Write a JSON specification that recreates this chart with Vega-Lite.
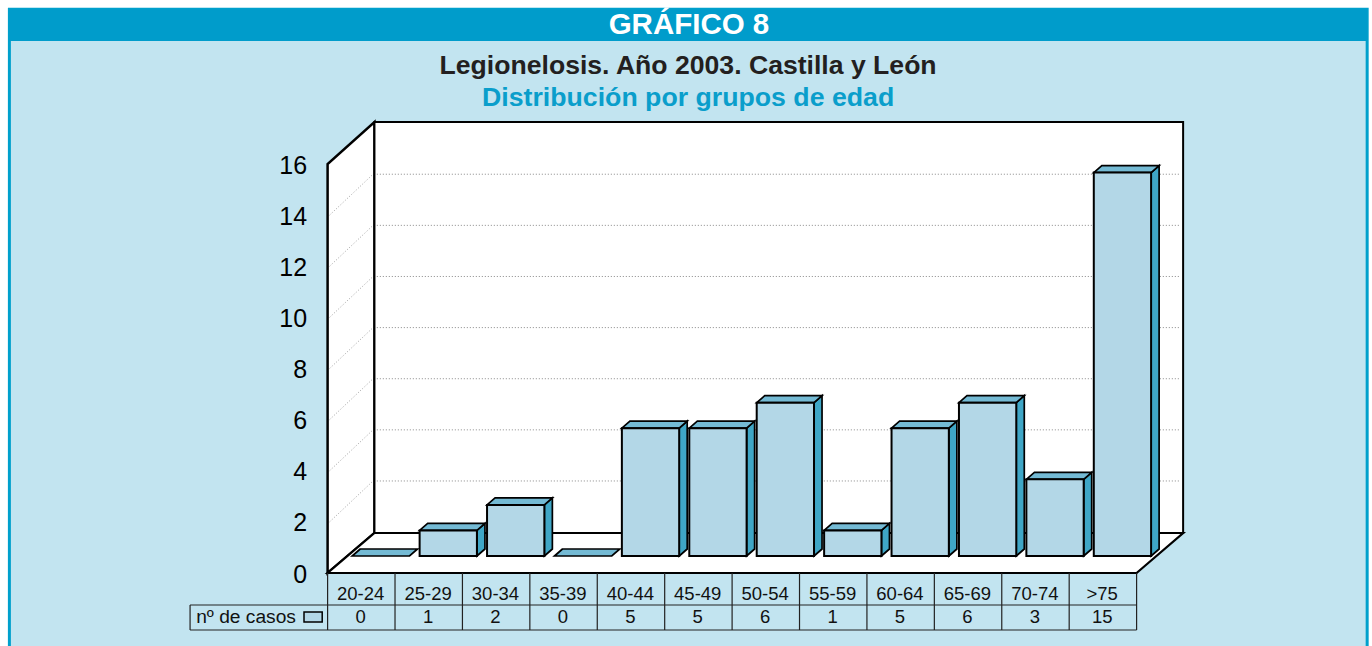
{
"$schema":"https://vega.github.io/schema/vega-lite/v6.json",
"width":809,"height":409,
"autosize":"none",
"padding":{"left":327.6,"top":164,"right":235.4,"bottom":73},
"background":"#ffffff",
"config":{"view":{"stroke":null},"font":"Liberation Sans"},
"resolve":{"axis":{"y":"independent"}},
"title":{"text":"Legionelosis. Año 2003. Castilla y León","subtitle":"Distribución por grupos de edad","font":"Liberation Sans","fontSize":26.6,"fontWeight":"bold","color":"#231f20","subtitleFont":"Liberation Sans","subtitleFontSize":26.7,"subtitleFontWeight":"bold","subtitleColor":"#0a9ecb","subtitlePadding":6,"anchor":"middle","dx":-44,"offset":0,"dy":104},
"datasets":{
"edades":[
{"grupo":"20-24","casos":0,"orden":0},{"grupo":"25-29","casos":1,"orden":1},{"grupo":"30-34","casos":2,"orden":2},{"grupo":"35-39","casos":0,"orden":3},
{"grupo":"40-44","casos":5,"orden":4},{"grupo":"45-49","casos":5,"orden":5},{"grupo":"50-54","casos":6,"orden":6},{"grupo":"55-59","casos":1,"orden":7},
{"grupo":"60-64","casos":5,"orden":8},{"grupo":"65-69","casos":6,"orden":9},{"grupo":"70-74","casos":3,"orden":10},{"grupo":">75","casos":15,"orden":11}],
"rejilla":[{"v":2},{"v":4},{"v":6},{"v":8},{"v":10},{"v":12},{"v":14}],
"dos":[{"f":0},{"f":1}],
"uno":[{"n":1}]
},
"layer":[
{"data":{"name":"uno"},"mark":{"type":"rect","fill":"#c2e4f0","stroke":"#00a0cc","strokeWidth":3},
"encoding":{"x":{"datum":-4.72,"type":"quantitative","scale":{"domain":[0,12]},"axis":null},"x2":{"datum":15.42},"y":{"datum":-3.0,"type":"quantitative","scale":{"domain":[0,16]},"axis":null},"y2":{"datum":22.05}}},
{"data":{"name":"uno"},"mark":{"type":"rect","fill":"#009ccb"},
"encoding":{"x":{"datum":-4.72,"type":"quantitative","scale":{"domain":[0,12]},"axis":null},"x2":{"datum":15.42},"y":{"datum":20.81,"type":"quantitative","scale":{"domain":[0,16]},"axis":null},"y2":{"datum":22.05}}},
{"data":{"name":"uno"},"mark":{"type":"text","text":"GRÁFICO 8","font":"Liberation Sans","fontSize":29.5,"fontWeight":"bold","color":"#ffffff","baseline":"middle"},
"encoding":{"x":{"datum":5.36,"type":"quantitative","scale":{"domain":[0,12]},"axis":null},"y":{"datum":21.45,"type":"quantitative","scale":{"domain":[0,16]},"axis":null}}},
{"data":{"name":"dos"},"transform":[{"calculate":"datum.f*0.695","as":"ax"},{"calculate":"datum.f*1.565","as":"ay"},{"calculate":"16+datum.f*1.64","as":"ay2"}],
"mark":{"type":"area","fill":"#ffffff","stroke":"#000000","strokeWidth":2.5},
"encoding":{"x":{"field":"ax","type":"quantitative","scale":{"domain":[0,12]},"axis":null},"y":{"field":"ay","type":"quantitative","scale":{"domain":[0,16]},"axis":null},"y2":{"field":"ay2"}}},
{"data":{"name":"uno"},"mark":{"type":"rect","fill":"#ffffff","stroke":"#000000","strokeWidth":2},
"encoding":{"x":{"datum":0.695,"type":"quantitative","scale":{"domain":[0,12]},"axis":null},"x2":{"datum":12.69},"y":{"datum":1.565,"type":"quantitative","scale":{"domain":[0,16]},"axis":null},"y2":{"datum":17.64}}},
{"data":{"name":"dos"},"transform":[{"calculate":"datum.f*0.695","as":"ax"},{"calculate":"12+datum.f*0.69","as":"ax2"},{"calculate":"datum.f*1.565","as":"ay"}],
"mark":{"type":"area","orient":"horizontal","fill":"#ffffff","stroke":"#000000","strokeWidth":2.2},
"encoding":{"y":{"field":"ay","type":"quantitative","scale":{"domain":[0,16]},"axis":null},"x":{"field":"ax","type":"quantitative","scale":{"domain":[0,12]},"axis":null},"x2":{"field":"ax2"}}},
{"data":{"name":"rejilla"},"transform":[{"calculate":"datum.v+1.6","as":"gy"}],
"mark":{"type":"rule","color":"#888888","strokeWidth":1,"strokeDash":[1,2]},
"encoding":{"x":{"datum":0.73,"type":"quantitative","scale":{"domain":[0,12]},"axis":null},"x2":{"datum":12.65},"y":{"field":"gy","type":"quantitative","scale":{"domain":[0,16]},"axis":{"values":[0,2,4,6,8,10,12,14,16],"title":null,"domain":false,"ticks":false,"grid":false,"labelFontSize":25,"labelFont":"Liberation Sans","labelColor":"#000000","labelPadding":21,"labelOffset":1,"zindex":1,"labelFlush":false}}}},
{"data":{"name":"rejilla"},"transform":[{"calculate":"datum.v+1.565","as":"gy"}],
"mark":{"type":"rule","color":"#888888","strokeWidth":0.8,"strokeDash":[1,2]},
"encoding":{"x":{"datum":0.03,"type":"quantitative","scale":{"domain":[0,12]},"axis":null},"x2":{"datum":0.66},"y":{"field":"v","type":"quantitative","scale":{"domain":[0,16]},"axis":null},"y2":{"field":"gy"}}},
{"data":{"name":"edades"},"transform":[{"filter":"datum.casos>0"},{"calculate":"[0,1]","as":"f"},{"flatten":["f"]},{"calculate":"datum.orden+1.215+datum.f*0.119","as":"sx"},{"calculate":"0.665+datum.f*0.274","as":"sy"},{"calculate":"datum.casos+0.665+datum.f*0.274","as":"sy2"}],
"mark":{"type":"area","fill":"#3fa6c6","stroke":"#000000","strokeWidth":1.7},
"encoding":{"detail":{"field":"orden"},"x":{"field":"sx","type":"quantitative","scale":{"domain":[0,12]},"axis":null},"y":{"field":"sy","type":"quantitative","scale":{"domain":[0,16]},"axis":null},"y2":{"field":"sy2"}}},
{"data":{"name":"edades"},"transform":[{"calculate":"[0,1]","as":"f"},{"flatten":["f"]},{"calculate":"datum.orden+0.365+datum.f*0.119","as":"sx"},{"calculate":"datum.orden+1.215+datum.f*0.119","as":"sx2"},{"calculate":"datum.casos+0.665+datum.f*0.274","as":"sy"}],
"mark":{"type":"area","orient":"horizontal","fill":"#74bad4","stroke":"#000000","strokeWidth":1.7},
"encoding":{"detail":{"field":"orden"},"y":{"field":"sy","type":"quantitative","scale":{"domain":[0,16]},"axis":null},"x":{"field":"sx","type":"quantitative","scale":{"domain":[0,12]},"axis":null},"x2":{"field":"sx2"}}},
{"data":{"name":"edades"},"transform":[{"filter":"datum.casos>0"},{"calculate":"datum.orden+0.365","as":"bx"},{"calculate":"datum.orden+1.215","as":"bx2"},{"calculate":"datum.casos+0.665","as":"by"},{"calculate":"0.665","as":"by2"}],
"mark":{"type":"rect","fill":"#b3d7e7","stroke":"#000000","strokeWidth":2},
"encoding":{"x":{"field":"bx","type":"quantitative","scale":{"domain":[0,12]},"axis":null},"x2":{"field":"bx2"},"y":{"field":"by","type":"quantitative","scale":{"domain":[0,16]},"axis":null},"y2":{"field":"by2"}}},
{"data":{"name":"edades"},"mark":{"type":"rule","color":"#222222","strokeWidth":1.2},
"encoding":{"x":{"field":"orden","type":"quantitative","scale":{"domain":[0,12]},"axis":null},"y":{"datum":0,"type":"quantitative","scale":{"domain":[0,16]},"axis":null},"y2":{"datum":-2.23}}},
{"data":{"name":"uno"},"mark":{"type":"rule","color":"#222222","strokeWidth":1.2},
"encoding":{"x":{"datum":12,"type":"quantitative","scale":{"domain":[0,12]},"axis":null},"y":{"datum":0,"type":"quantitative","scale":{"domain":[0,16]},"axis":null},"y2":{"datum":-2.23}}},
{"data":{"name":"uno"},"mark":{"type":"rule","color":"#222222","strokeWidth":1.2},
"encoding":{"x":{"datum":-2.04,"type":"quantitative","scale":{"domain":[0,12]},"axis":null},"y":{"datum":-1.252,"type":"quantitative","scale":{"domain":[0,16]},"axis":null},"y2":{"datum":-2.23}}},
{"data":{"name":"uno"},"mark":{"type":"rule","color":"#222222","strokeWidth":1.2},
"encoding":{"x":{"datum":-2.04,"type":"quantitative","scale":{"domain":[0,12]},"axis":null},"x2":{"datum":12},"y":{"datum":-1.252,"type":"quantitative","scale":{"domain":[0,16]},"axis":null}}},
{"data":{"name":"uno"},"mark":{"type":"rule","color":"#222222","strokeWidth":1.2},
"encoding":{"x":{"datum":-2.04,"type":"quantitative","scale":{"domain":[0,12]},"axis":null},"x2":{"datum":12},"y":{"datum":-2.23,"type":"quantitative","scale":{"domain":[0,16]},"axis":null}}},
{"data":{"name":"edades"},"transform":[{"calculate":"datum.orden+0.49","as":"tx"}],
"mark":{"type":"text","font":"Liberation Sans","fontSize":18.5,"color":"#111111","baseline":"middle"},
"encoding":{"x":{"field":"tx","type":"quantitative","scale":{"domain":[0,12]},"axis":null},"y":{"datum":-0.82,"type":"quantitative","scale":{"domain":[0,16]},"axis":null},"text":{"field":"grupo"}}},
{"data":{"name":"edades"},"transform":[{"calculate":"datum.orden+0.49","as":"tx"}],
"mark":{"type":"text","font":"Liberation Sans","fontSize":18.5,"color":"#111111","baseline":"middle"},
"encoding":{"x":{"field":"tx","type":"quantitative","scale":{"domain":[0,12]},"axis":null},"y":{"datum":-1.74,"type":"quantitative","scale":{"domain":[0,16]},"axis":null},"text":{"field":"casos","type":"quantitative"}}},
{"data":{"name":"uno"},"mark":{"type":"text","text":"nº de casos","font":"Liberation Sans","fontSize":19.2,"color":"#111111","baseline":"middle","align":"left"},
"encoding":{"x":{"datum":-1.95,"type":"quantitative","scale":{"domain":[0,12]},"axis":null},"y":{"datum":-1.74,"type":"quantitative","scale":{"domain":[0,16]},"axis":null}}},
{"data":{"name":"uno"},"mark":{"type":"rect","fill":"#b3d7e7","stroke":"#000000","strokeWidth":1.5},
"encoding":{"x":{"datum":-0.35,"type":"quantitative","scale":{"domain":[0,12]},"axis":null},"x2":{"datum":-0.08},"y":{"datum":-1.53,"type":"quantitative","scale":{"domain":[0,16]},"axis":null},"y2":{"datum":-1.92}}}
]
}
